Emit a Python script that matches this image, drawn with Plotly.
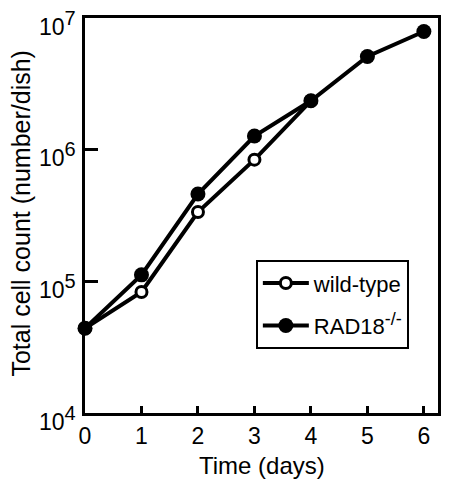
import math
import plotly.graph_objects as go

days_wt = [0, 1, 2, 3, 4]
wild_type = [4.4e4, 8.3e4, 3.36e5, 8.4e5, 2.35e6]
days_rad = [0, 1, 2, 3, 4, 5, 6]
rad18 = [4.4e4, 1.12e5, 4.6e5, 1.27e6, 2.35e6, 5.1e6, 7.9e6]

y_tickvals = [1e4, 1e5, 1e6, 1e7]
y_exponents = ["4", "5", "6", "7"]
x_tickvals = [0, 1, 2, 3, 4, 5, 6]

FONT = "Liberation Sans, Arial, Helvetica, sans-serif"
y_ticktext = ["10<sup><span style='font-size:20px'>%s</span></sup>" % e for e in y_exponents]

fig = go.Figure()
fig.add_trace(go.Scatter(
    x=days_wt, y=wild_type, mode="lines+markers", name="wild-type",
    line=dict(color="black", width=4),
    marker=dict(symbol="circle", size=11, color="white", line=dict(color="black", width=3)),
    cliponaxis=False, legendrank=1, legendgroup="a",
))
fig.add_trace(go.Scatter(
    x=days_rad, y=rad18, mode="lines+markers", name="RAD18<sup><span style='font-size:18px'>-/-</span></sup>",
    line=dict(color="black", width=4),
    marker=dict(symbol="circle", size=15, color="black"),
    cliponaxis=False, legendrank=2, legendgroup="b",
))

annotations = [
    dict(text="Time (days)", xref="paper", yref="paper", x=0.5, y=-0.133,
         xanchor="center", yanchor="middle", showarrow=False, font=dict(size=24)),
    dict(text="Total cell count (number/dish)", xref="paper", yref="paper",
         x=-0.18, y=0.506, xanchor="center", yanchor="middle", textangle=-90,
         showarrow=False, font=dict(size=25)),
]
# y tick labels, placed on the y scale at each tick value
for v, t in zip(y_tickvals, y_ticktext):
    annotations.append(dict(
        text=t, xref="paper", yref="y", x=0, y=math.log10(v),
        xanchor="right", yanchor="middle", xshift=-8, yshift=-5,
        showarrow=False, font=dict(size=23), borderpad=0,
    ))

fig.update_layout(
    width=449, height=490,
    margin=dict(l=85, r=11, t=18, b=77),
    paper_bgcolor="white", plot_bgcolor="white",
    font=dict(family=FONT, color="black", size=20),
    legend=dict(
        x=0.484, y=0.387, xanchor="left", yanchor="top",
        bordercolor="black", borderwidth=2, bgcolor="white",
        font=dict(size=22), traceorder="grouped", tracegroupgap=11,
        itemwidth=46, entrywidth=146,
    ),
    showlegend=True,
    annotations=annotations,
)
fig.update_xaxes(
    range=[0, 6.25], tickvals=x_tickvals, ticks="inside", ticklen=7, tickwidth=3,
    tickcolor="black", showline=True, linecolor="black", linewidth=3, mirror=True,
    showgrid=False, zeroline=False, tickfont=dict(size=23), automargin=False,
    ticklabeloverflow="allow",
)
fig.update_yaxes(
    type="log", range=[4, 7], tickvals=y_tickvals, showticklabels=False,
    ticks="inside", ticklen=13, tickwidth=3, tickcolor="black",
    showline=True, linecolor="black", linewidth=3, mirror=True,
    showgrid=False, zeroline=False, automargin=False,
)

fig.write_html("out.html", config={"displayModeBar": False},
               post_script="document.body.style.margin='0';")
